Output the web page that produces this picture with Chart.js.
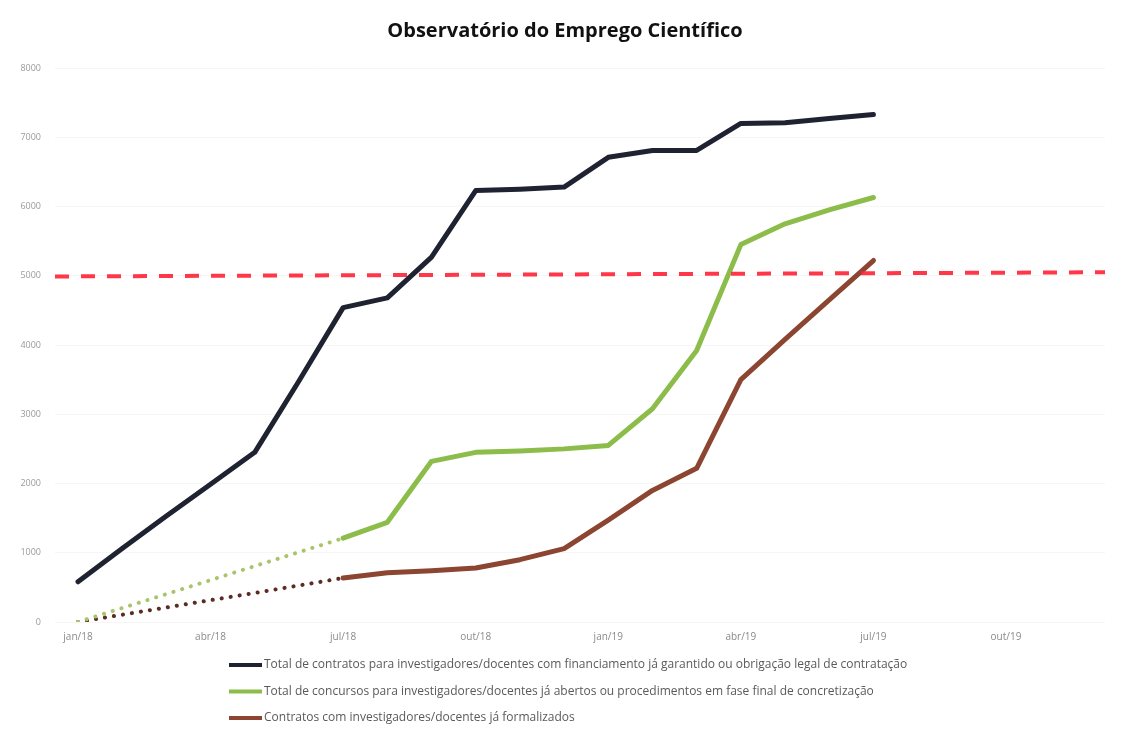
<!DOCTYPE html>
<html lang="pt">
<head>
<meta charset="utf-8">
<title>Observatório do Emprego Científico</title>
<script src="https://cdn.jsdelivr.net/npm/chart.js@4.4.1/dist/chart.umd.min.js"></script>
<style>
  html, body { margin: 0; padding: 0; background: #fff; }
  #wrap { width: 1121px; height: 735px; }
</style>
</head>
<body>
<div id="wrap"><canvas id="chart"></canvas></div>
<script>
// months from jan/18, x value = index
const months = ['jan/18', 'fev/18', 'mar/18', 'abr/18', 'mai/18', 'jun/18', 'jul/18', 'ago/18', 'set/18', 'out/18', 'nov/18', 'dez/18',
                'jan/19', 'fev/19', 'mar/19', 'abr/19', 'mai/19', 'jun/19', 'jul/19', 'ago/19', 'set/19', 'out/19'];
const tickMonths = [0, 3, 6, 9, 12, 15, 18, 21];
const yTicks = [0, 1000, 2000, 3000, 4000, 5000, 6000, 7000, 8000];

const totalContratos = [580, 1060, 1530, 1990, 2450, 3480, 4540, 4680, 5270, 6230, 6250, 6280,
                        6710, 6810, 6810, 7200, 7210, 7270, 7330];
const totalConcursos = [0, null, null, null, null, null, 1210, 1440, 2320, 2450, 2470, 2500,
                        2550, 3080, 3920, 5450, 5750, 5950, 6130];
const contratosFormalizados = [0, null, null, null, 420, null, 635, 710, 740, 780, 900, 1060,
                               1470, 1900, 2220, 3500, 4080, 4650, 5220];
const metaLine = [4990, 5050]; // linha tracejada dos 5000 (início, fim)

const chartTitle = 'Observatório do Emprego Científico';
const seriesNames = [
    'Total de contratos para investigadores/docentes com financiamento já garantido ou obrigação legal de contratação',
    'Total de concursos para investigadores/docentes já abertos ou procedimentos em fase final de concretização',
    'Contratos com investigadores/docentes já formalizados'
];
const seriesColors = ['#1f2331', '#8cbd4b', '#8b4530'];
const dottedColors = [null, '#a9c56c', '#5c2b24'];

const xMin = -0.52, xMax = 23.24;
const lastEstimated = 6; // até jul/18 a linha é pontilhada (só concursos e formalizados)

function points(values) {
    return values.map((v, i) => ({ x: i, y: v }));
}

function seriesDataset(values, i) {
    const dotted = ctx => dottedColors[i] && ctx.p1DataIndex <= lastEstimated;
    return {
        label: seriesNames[i],
        data: points(values),
        borderColor: seriesColors[i],
        borderWidth: 5,
        borderCapStyle: 'round',
        borderJoinStyle: 'round',
        pointRadius: 0,
        tension: 0,
        spanGaps: true,
        segment: {
            borderColor: ctx => dotted(ctx) ? dottedColors[i] : undefined,
            borderDash: ctx => dotted(ctx) ? [0.1, 9] : undefined,
            borderWidth: ctx => dotted(ctx) ? 4 : undefined
        }
    };
}

// título e legenda em coluna, alinhada à esquerda
const titleAndLegend = {
    id: 'titleAndLegend',
    afterDraw(chart) {
        const ctx = chart.ctx;
        ctx.save();
        ctx.font = 'bold 20px "Open Sans"';
        ctx.fillStyle = '#111';
        ctx.textAlign = 'center';
        ctx.textBaseline = 'middle';
        ctx.fillText(chartTitle, 565, 31);

        const top = chart.chartArea.bottom + 43;
        ctx.font = '12px "Open Sans"';
        ctx.textAlign = 'left';
        seriesNames.forEach((name, i) => {
            const y = top + i * 26.5;
            ctx.strokeStyle = seriesColors[i];
            ctx.lineWidth = 4;
            ctx.beginPath();
            ctx.moveTo(229, y);
            ctx.lineTo(262, y);
            ctx.stroke();
            ctx.fillStyle = '#5a5a5a';
            ctx.fillText(name, 264, y);
        });
        ctx.restore();
    }
};

new Chart(document.getElementById('chart'), {
    type: 'line',
    data: {
        datasets: [
            seriesDataset(totalContratos, 0),
            seriesDataset(totalConcursos, 1),
            seriesDataset(contratosFormalizados, 2),
            {
                label: 'meta',
                data: [{ x: xMin, y: metaLine[0] }, { x: xMax, y: metaLine[1] }],
                borderColor: 'rgba(255, 38, 56, 0.92)',
                borderWidth: 4,
                borderDash: [14, 12],
                pointRadius: 0,
                order: -1
            }
        ]
    },
    options: {
        responsive: true,
        maintainAspectRatio: false,
        animation: false,
        layout: { padding: { left: 0, right: 16, top: 68, bottom: 83 } },
        plugins: {
            legend: { display: false },
            tooltip: { enabled: false },
            title: { display: false }
        },
        scales: {
            x: {
                type: 'linear',
                min: xMin,
                max: xMax,
                afterBuildTicks: axis => { axis.ticks = tickMonths.map(v => ({ value: v })); },
                ticks: {
                    callback: v => months[v],
                    color: '#8a8a8a',
                    font: { family: '"Open Sans"', size: 10 },
                    padding: 9,
                    maxRotation: 0
                },
                grid: { display: false, drawTicks: false },
                border: { display: false }
            },
            y: {
                min: 0,
                max: 8000,
                afterBuildTicks: axis => { axis.ticks = yTicks.map(v => ({ value: v })); },
                afterFit: axis => { axis.width = 55; },
                ticks: {
                    callback: v => String(v),
                    color: '#9a9a9a',
                    font: { family: '"Open Sans"', size: 9 },
                    padding: 14
                },
                grid: { color: 'rgba(0,0,0,0.035)', drawTicks: false },
                border: { display: false }
            }
        }
    },
    plugins: [titleAndLegend]
});
</script>
</body>
</html>
